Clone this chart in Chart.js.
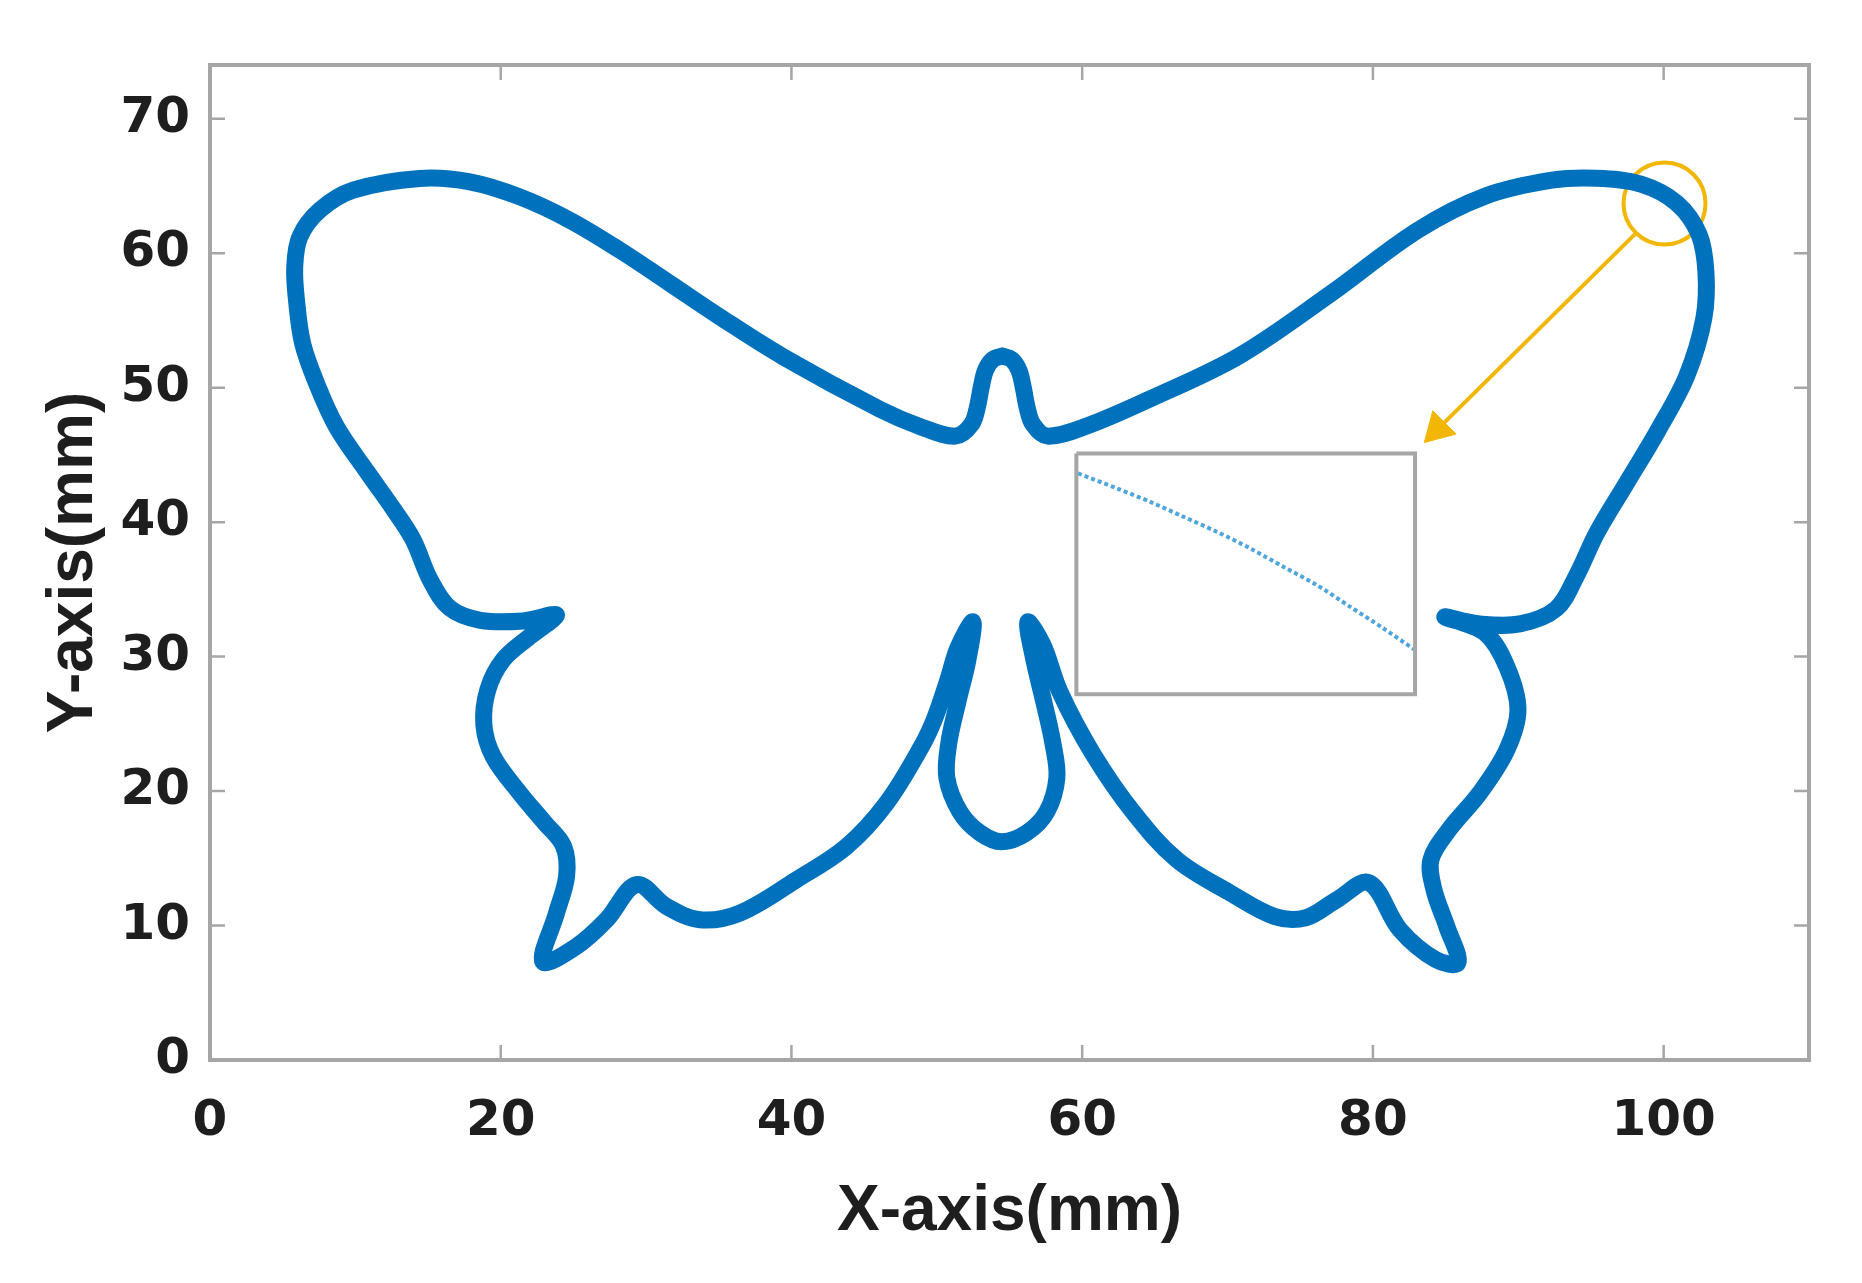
<!DOCTYPE html>
<html>
<head>
<meta charset="utf-8">
<script src="https://cdn.jsdelivr.net/npm/chart.js@4.4.1/dist/chart.umd.min.js"></script>
<style>
  html, body { margin: 0; padding: 0; background: #fff; }
  #wrap { width: 1862px; height: 1283px; }
</style>
</head>
<body>
<div id="wrap"><canvas id="plot" width="1862" height="1283"></canvas></div>
<script>
// Butterfly contour (mm), going round from the top of the body
const outlineX = [
  54.50, 53.85, 53.35, 53.05, 52.80, 52.40, 51.30, 48.83, 46.08, 39.43, 35.07, 31.63,
  28.19, 24.75, 21.31, 17.87, 14.43, 9.85, 7.55, 6.18, 5.83, 5.95,
  6.37, 7.33, 8.70, 10.86, 12.60, 13.97, 15.15, 16.50, 18.60, 21.54,
  23.84, 22.00, 20.17, 19.11, 18.84, 19.48, 21.31, 23.03, 24.33, 24.53,
  23.84, 22.90, 25.21, 27.28, 29.34, 31.41, 33.70, 36.45, 40.35, 43.79,
  46.54, 48.97, 49.87, 50.76, 51.45, 52.48, 52.14, 51.45, 50.83, 50.69,
  51.59, 52.96, 54.47, 56.19, 57.57, 58.26, 57.98, 57.36, 56.68, 56.26,
  57.30, 58.47, 60.74, 63.49, 66.52, 70.16, 73.26, 75.39, 77.52, 79.73,
  81.86, 84.33, 85.85, 85.09, 84.20, 83.99, 85.23, 87.36, 89.22, 89.98,
  89.22, 87.71, 84.95, 87.36, 90.11, 92.60, 94.00, 95.40, 97.50, 99.60,
  101.60, 102.77, 102.91, 102.43, 100.91, 98.44, 95.34, 92.31, 87.71, 83.10,
  76.97, 70.78, 64.66, 60.32, 57.60, 56.60, 56.20, 55.95, 55.65, 55.15, 54.50
];
const outlineY = [
  52.35, 52.10, 51.30, 50.00, 48.60, 47.30, 46.40, 47.12, 48.40, 52.30, 55.27, 57.76,
  60.23, 62.46, 64.19, 65.31, 65.56, 64.69, 63.20, 61.22, 58.99, 56.51,
  53.30, 50.32, 47.10, 43.66, 41.00, 38.70, 35.70, 33.60, 32.70, 32.65,
  33.10, 31.49, 29.76, 27.53, 24.93, 22.57, 19.85, 17.64, 15.88, 13.65,
  10.93, 7.31, 8.45, 10.43, 13.04, 11.42, 10.43, 10.93, 13.41, 15.88,
  19.11, 23.37, 25.45, 28.27, 30.65, 32.58, 29.76, 26.64, 23.59, 20.99,
  18.46, 16.90, 16.23, 16.90, 18.46, 20.99, 23.59, 26.64, 29.76, 32.58,
  30.87, 27.38, 22.77, 18.46, 14.89, 12.44, 10.66, 10.58, 11.92, 13.18,
  9.69, 7.46, 7.24, 9.91, 12.66, 14.89, 17.12, 19.87, 23.07, 26.04,
  29.24, 31.77, 32.95, 32.43, 32.43, 33.55, 36.00, 39.20, 43.00, 46.80,
  50.90, 55.18, 58.60, 61.42, 63.72, 65.14, 65.58, 65.43, 64.24, 61.72,
  56.89, 52.35, 49.16, 47.15, 46.40, 47.30, 48.60, 50.00, 51.30, 52.10, 52.35
];

// magnified detail drawn inside the inset frame
const insetLineX = [59.72, 62.37, 64.66, 66.95, 69.25, 71.54, 73.83, 76.13, 78.42, 80.71, 82.89];
const insetLineY = [43.63, 42.52, 41.52, 40.41, 39.29, 38.06, 36.69, 35.33, 33.72, 32.11, 30.50];
const insetBoxX = [59.6, 82.9, 82.9, 59.6, 59.6];
const insetBoxY = [45.1, 45.1, 27.2, 27.2, 45.1];

// yellow marker circle and arrow
const markerX = [100.06];
const markerY = [63.70];
const arrowX = [98.03, 84.46];
const arrowY = [61.42, 46.92];

const xTicks = [0, 20, 40, 60, 80, 100];
const yTicks = [0, 10, 20, 30, 40, 50, 60, 70];
const xRange = [0, 110];
const yRange = [0, 74];

const BLUE = "#0072BD";
const YELLOW = "#f2b705";
const GREY = "#a6a6a6";

function pts(xs, ys) {
  return xs.map((x, i) => ({ x: x, y: ys[i] }));
}

// MATLAB-like box with inward ticks on all four sides
const boxFrame = {
  id: "boxFrame",
  afterDatasetsDraw(chart) {
    const { ctx, chartArea: a, scales } = chart;
    const len = 15;
    ctx.save();
    ctx.strokeStyle = GREY;
    ctx.lineWidth = 2.5;
    ctx.beginPath();
    xTicks.forEach(v => {
      const px = scales.x.getPixelForValue(v);
      ctx.moveTo(px, a.bottom); ctx.lineTo(px, a.bottom - len);
      ctx.moveTo(px, a.top); ctx.lineTo(px, a.top + len);
    });
    yTicks.forEach(v => {
      const py = scales.y.getPixelForValue(v);
      ctx.moveTo(a.left, py); ctx.lineTo(a.left + len, py);
      ctx.moveTo(a.right, py); ctx.lineTo(a.right - len, py);
    });
    ctx.stroke();
    ctx.lineWidth = 4;
    ctx.strokeRect(a.left, a.top, a.right - a.left, a.bottom - a.top);
    ctx.restore();
  }
};

const tickFont = { family: "'DejaVu Sans', sans-serif", size: 50, weight: "bold" };
const titleFont = { family: "'Liberation Sans', Arial, sans-serif", size: 64, weight: "bold" };

new Chart(document.getElementById("plot").getContext("2d"), {
  type: "scatter",
  data: {
    datasets: [
      {
        data: pts(outlineX, outlineY),
        showLine: true,
        borderColor: BLUE,
        borderWidth: 17,
        tension: 0.35,
        borderJoinStyle: "round",
        borderCapStyle: "round",
        pointRadius: 0
      },
      {
        data: pts(insetBoxX, insetBoxY),
        showLine: true,
        borderColor: GREY,
        borderWidth: 4,
        tension: 0,
        pointRadius: 0
      },
      {
        data: pts(insetLineX, insetLineY),
        showLine: true,
        borderColor: "#4fa6dc",
        borderWidth: 4,
        borderDash: [4, 3],
        tension: 0.3,
        pointRadius: 0
      },
      {
        data: pts(markerX, markerY),
        pointStyle: "circle",
        pointRadius: 41,
        pointBorderWidth: 4,
        pointBorderColor: YELLOW,
        pointBackgroundColor: "rgba(0,0,0,0)"
      },
      {
        data: pts(arrowX, arrowY),
        showLine: true,
        borderColor: YELLOW,
        borderWidth: 4,
        pointRadius: [0, 19],
        pointStyle: "triangle",
        pointRotation: 225,
        pointBackgroundColor: YELLOW,
        pointBorderColor: YELLOW,
        pointBorderWidth: 1
      }
    ]
  },
  options: {
    responsive: false,
    animation: false,
    devicePixelRatio: 1,
    layout: { padding: { left: 0, right: 53, top: 65, bottom: 0 } },
    plugins: { legend: { display: false }, tooltip: { enabled: false } },
    scales: {
      x: {
        type: "linear",
        min: xRange[0],
        max: xRange[1],
        grid: { display: false, drawTicks: false },
        border: { display: false },
        afterBuildTicks: s => { s.ticks = xTicks.map(v => ({ value: v })); },
        afterFit: s => { s.height = 223; },
        ticks: { font: tickFont, color: "#1e1e1e", padding: 32, maxRotation: 0 },
        title: { display: true, text: "X-axis(mm)", font: titleFont, color: "#1e1e1e", padding: { top: 0, bottom: 32 } }
      },
      y: {
        type: "linear",
        min: yRange[0],
        max: yRange[1],
        grid: { display: false, drawTicks: false },
        border: { display: false },
        afterBuildTicks: s => { s.ticks = yTicks.map(v => ({ value: v })); },
        afterFit: s => { s.width = 210; },
        ticks: { font: tickFont, color: "#1e1e1e", padding: 20 },
        title: { display: true, text: "Y-axis(mm)", font: titleFont, color: "#1e1e1e", padding: { top: 36, bottom: 0 } }
      }
    }
  },
  plugins: [boxFrame]
});
</script>
</body>
</html>
